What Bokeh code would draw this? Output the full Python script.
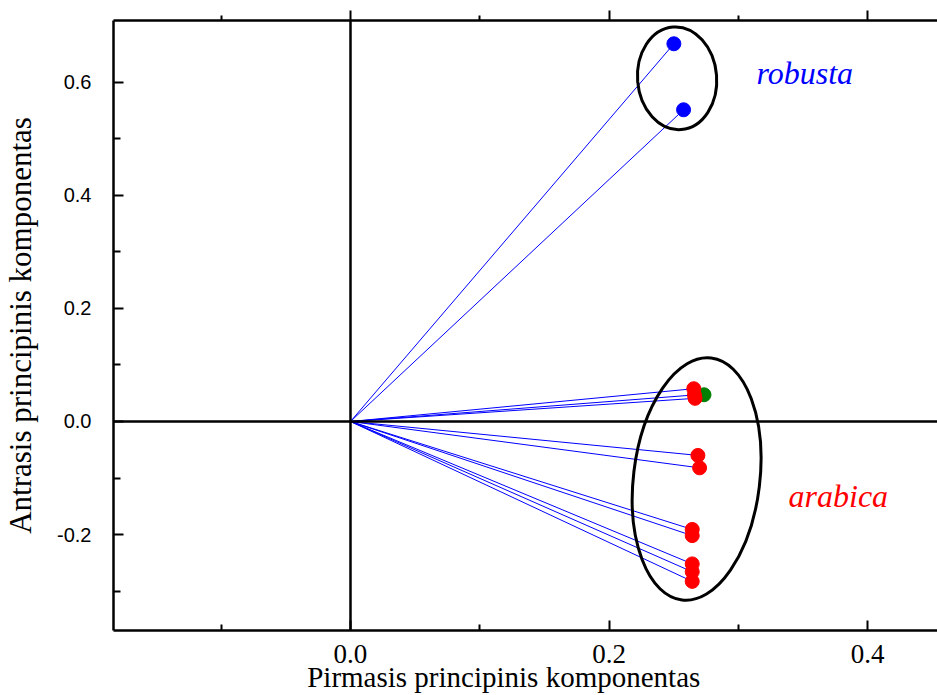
from bokeh.plotting import figure
from bokeh.models import Range1d, LinearAxis, FixedTicker, Span
from bokeh.core.properties import value
from bokeh.embed import file_html
from bokeh.resources import INLINE

# PCA loadings of coffee samples (first vs second principal component)
robusta_x = [0.2501, 0.2576]
robusta_y = [0.6685, 0.5517]

arabica_x = [0.2655, 0.2660, 0.2665, 0.2687, 0.2700, 0.2643, 0.2643, 0.2643, 0.2643, 0.2643]
arabica_y = [0.058, 0.047, 0.041, -0.060, -0.082, -0.191, -0.202, -0.252, -0.266, -0.283]

mixed_x = [0.2734]
mixed_y = [0.0473]

x_ticks = [0.0, 0.2, 0.4]
x_minor = [-0.1, 0.1, 0.3]
x_tick_labels = ["0.0", "0.2", "0.4"]
y_ticks = [-0.2, 0.0, 0.2, 0.4, 0.6]
y_minor = [-0.3, -0.1, 0.1, 0.3, 0.5]
y_tick_labels = ["-0.2", "0.0", "0.2", "0.4", "0.6"]

x_title = "Pirmasis principinis komponentas"
y_title = "Antrasis principinis komponentas"
group_names = ["robusta", "arabica"]

SERIF = "Liberation Serif"
SANS = "Liberation Sans"

p = figure(width=937, height=695, output_backend="svg", toolbar_location=None,
           x_range=Range1d(-0.1833, 0.454), y_range=Range1d(-0.3699, 0.7097),
           min_border_left=113, min_border_right=0, min_border_top=20, min_border_bottom=65)
p.outline_line_color = None
p.xgrid.visible = False
p.ygrid.visible = False
p.background_fill_color = "white"
p.border_fill_color = "white"

# bottom axis: ticks pointing inward; the title sits a little left of centre,
# so it is padded on the right with no-break spaces
xa = p.xaxis[0]
xa.ticker = FixedTicker(ticks=x_ticks, minor_ticks=x_minor)
xa.major_label_overrides = dict(zip(x_ticks, x_tick_labels))
xa.axis_line_width = 2.5
xa.major_tick_line_width = 2
xa.minor_tick_line_width = 2
xa.major_tick_in = 10
xa.major_tick_out = 0
xa.minor_tick_in = 6
xa.minor_tick_out = 0
xa.major_label_standoff = 14
xa.major_label_text_font = SERIF
xa.major_label_text_font_size = "27px"
xa.major_label_text_color = "black"
xa.axis_label = x_title + "\u00a0" * 6
xa.axis_label_text_font = SERIF
xa.axis_label_text_font_style = "normal"
xa.axis_label_text_font_size = "29px"
xa.axis_label_text_color = "black"
xa.axis_label_standoff = -5

# left axis: ticks pointing inward
ya = p.yaxis[0]
ya.ticker = FixedTicker(ticks=y_ticks, minor_ticks=y_minor)
ya.major_label_overrides = dict(zip(y_ticks, y_tick_labels))
ya.axis_line_width = 2.5
ya.major_tick_line_width = 2
ya.minor_tick_line_width = 2
ya.major_tick_in = 10
ya.major_tick_out = 0
ya.minor_tick_in = 7
ya.minor_tick_out = 0
ya.major_label_standoff = 22
ya.major_label_text_font = SANS
ya.major_label_text_font_size = "20px"
ya.major_label_text_color = "black"
ya.axis_label = y_title
ya.axis_label_text_font = SERIF
ya.axis_label_text_font_style = "normal"
ya.axis_label_text_font_size = "31px"
ya.axis_label_text_color = "black"
ya.axis_label_standoff = 16

# top axis: ticks pointing outward, no labels
top = LinearAxis(ticker=FixedTicker(ticks=x_ticks, minor_ticks=x_minor),
                 axis_line_width=2.5, major_tick_line_width=2, minor_tick_line_width=2,
                 major_tick_in=0, major_tick_out=10, minor_tick_in=0, minor_tick_out=5,
                 major_label_overrides={t: "" for t in x_ticks},
                 major_label_text_font_size="1px", major_label_standoff=0)
p.add_layout(top, "above")

# zero lines
p.add_layout(Span(location=0, dimension="height", line_color="black", line_width=2.5))
p.add_layout(Span(location=0, dimension="width", line_color="black", line_width=2.5))

# loading vectors from the origin
p.segment(x0=[0] * len(robusta_x), y0=[0] * len(robusta_y), x1=robusta_x, y1=robusta_y,
          line_color="#0000ff", line_width=1)
p.segment(x0=[0] * len(arabica_x), y0=[0] * len(arabica_y), x1=arabica_x, y1=arabica_y,
          line_color="#0000ff", line_width=1)

# sample points
p.scatter(mixed_x, mixed_y, size=14, fill_color="#008000", line_color="#008000")
p.scatter(arabica_x, arabica_y, size=14, fill_color="#ff0000", line_color="#ff0000")
p.scatter(robusta_x, robusta_y, size=14, fill_color="#0000ff", line_color="#0000ff")

# group outlines
p.ellipse(x=[0.2526], y=[0.6074], width=[0.0612], height=[0.1823], angle=[0.08],
          fill_color=None, line_color="black", line_width=3)
p.ellipse(x=[0.2677], y=[-0.1018], width=[0.0977], height=[0.4319], angle=[-0.12],
          fill_color=None, line_color="black", line_width=3)

# group names
p.text(x=[0.314], y=[0.616], text=[group_names[0]], text_color="#0000ff",
       text_font=value(SERIF), text_font_style="italic", text_font_size="32px",
       text_baseline="alphabetic", text_align="left")
p.text(x=[0.3388], y=[-0.131], text=[group_names[1]], text_color="#ff0000",
       text_font=value(SERIF), text_font_style="italic", text_font_size="32px",
       text_baseline="alphabetic", text_align="left")

open("out.html", "w").write(file_html(p, INLINE))
